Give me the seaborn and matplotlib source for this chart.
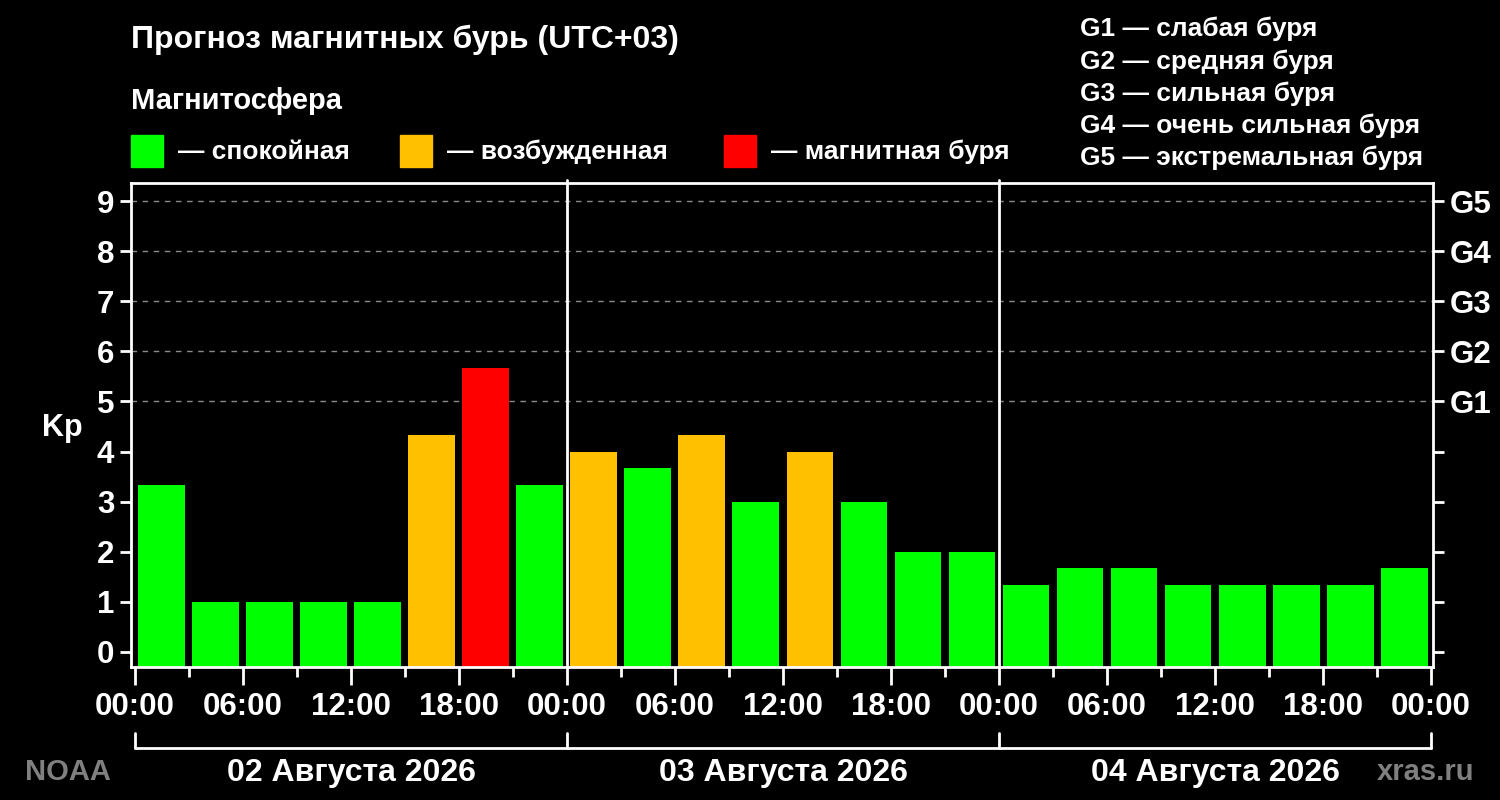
import matplotlib
matplotlib.use("Agg")
import matplotlib.pyplot as plt
import seaborn as sns
import pandas as pd
from matplotlib.patches import Rectangle
import matplotlib.transforms as mtransforms

# ---- data ----
hours = [1.5, 4.5, 7.5, 10.5, 13.5, 16.5, 19.5, 22.5,
         25.5, 28.5, 31.5, 34.5, 37.5, 40.5, 43.5, 46.5,
         49.5, 52.5, 55.5, 58.5, 61.5, 64.5, 67.5, 70.5]
kp = [3.33, 1.0, 1.0, 1.0, 1.0, 4.33, 5.67, 3.33,
      4.0, 3.67, 4.33, 3.0, 4.0, 3.0, 2.0, 2.0,
      1.33, 1.67, 1.67, 1.33, 1.33, 1.33, 1.33, 1.67]
levels = ["calm", "calm", "calm", "calm", "calm", "active", "storm", "calm",
          "active", "calm", "active", "calm", "active", "calm", "calm", "calm",
          "calm", "calm", "calm", "calm", "calm", "calm", "calm", "calm"]
level_colors = {"calm": "#00FF00", "active": "#FFC000", "storm": "#FF0000"}
level_labels = ["— спокойная", "— возбужденная", "— магнитная буря"]
xtick_labels = ["00:00", "06:00", "12:00", "18:00", "00:00", "06:00", "12:00",
                "18:00", "00:00", "06:00", "12:00", "18:00", "00:00"]
day_labels = ["02 Августа 2026", "03 Августа 2026", "04 Августа 2026"]
g_labels = ["G1", "G2", "G3", "G4", "G5"]
g_legend = ["G1 — слабая буря", "G2 — средняя буря", "G3 — сильная буря",
            "G4 — очень сильная буря", "G5 — экстремальная буря"]
title = "Прогноз магнитных бурь (UTC+03)"
subtitle = "Магнитосфера"

YMIN, YMAX = -0.3, 9.36

df = pd.DataFrame({"hour": hours, "kp": kp, "level": levels})

sns.set_theme(style="dark")
plt.rcParams["font.family"] = ["Liberation Sans", "DejaVu Sans"]
plt.rcParams["font.weight"] = "bold"

fig = plt.figure(figsize=(15, 8), dpi=100, facecolor="black")
ax = fig.add_axes([131/1500, 133/800, 1302/1500, 484/800])
ax.set_facecolor("black")

sns.barplot(data=df, x="hour", y="kp", hue="level", palette=level_colors,
            native_scale=True, dodge=False, width=0.87, legend=False,
            saturation=1, linewidth=0, ax=ax)
# bars reach down to the bottom of the plot area
for p in ax.patches:
    h = p.get_height()
    p.set_y(YMIN)
    p.set_height(h - YMIN)

ax.set_xlim(-0.22, 72.11)
ax.set_ylim(YMIN, YMAX)

# grid lines for G levels
for v in range(5, 10):
    ax.axhline(v, color="#8a8a8a", lw=1, ls=(0, (4, 4)), zorder=0.5)

# day separators
for d in (24, 48):
    ax.axvline(d, ymin=0, ymax=1.007, color="white", lw=2, clip_on=False, zorder=5)

for s in ax.spines.values():
    s.set_color("white")
    s.set_linewidth(2)
    s.set_visible(True)
    s.set_zorder(6)

ax.set_xticks(range(0, 73, 6))
ax.set_xticklabels(xtick_labels)
ax.set_xticks(range(3, 73, 6), minor=True)
ax.tick_params(axis="x", which="major", direction="out", length=13, width=2,
               color="white", labelcolor="white", labelsize=22.5, pad=5, bottom=True)
ax.tick_params(axis="x", which="minor", direction="out", length=7, width=2,
               color="white", bottom=True)
ax.set_yticks(range(0, 10))
ax.tick_params(axis="y", which="major", direction="out", length=8, width=2,
               color="white", labelcolor="white", labelsize=22.5, pad=4, left=True)
ax.set_xlabel("")
ax.set_ylabel("")
ax.grid(False)

ax2 = ax.twinx()
ax2.set_ylim(ax.get_ylim())
ax2.set_yticks(range(0, 10))
ax2.set_yticklabels([""] * 5 + g_labels)
ax2.tick_params(axis="y", direction="out", length=8, width=2, color="white",
                labelcolor="white", labelsize=22.5, pad=4, right=True)
ax2.grid(False)
for s in ax2.spines.values():
    s.set_visible(False)

ax.text(-0.053, 0.494, "Kp", transform=ax.transAxes, color="white",
        fontsize=22, fontweight="bold", ha="center", va="center")

# bottom bracket
tr = mtransforms.blended_transform_factory(ax.transData, ax.transAxes)
ax.plot([0, 72], [-0.167, -0.167], color="white", lw=2, transform=tr, clip_on=False)
for d in (0, 24, 48, 72):
    ax.plot([d, d], [-0.167, -0.137], color="white", lw=2, transform=tr, clip_on=False)
for i, lab in enumerate(day_labels):
    ax.text(12 + 24 * i, -0.219, lab, transform=tr, color="white", fontsize=23,
            fontweight="bold", ha="center", va="center")

fig.text(68/1500, 1 - 772/800, "NOAA", color="#808080", fontsize=21,
         fontweight="bold", ha="center", va="center")
fig.text(1426/1500, 1 - 772/800, "xras.ru", color="#808080", fontsize=21,
         fontweight="bold", ha="center", va="center")

# headers
fig.text(131/1500, 1 - 40/800, title, color="white", fontsize=23,
         fontweight="bold", ha="left", va="center")
fig.text(131/1500, 1 - 101/800, subtitle, color="white", fontsize=21,
         fontweight="bold", ha="left", va="center")

sq_x = [131, 400, 724]
for xpos, key, lab in zip(sq_x, ["calm", "active", "storm"], level_labels):
    fig.patches.append(Rectangle((xpos/1500, 1 - 167/800), 32/1500, 32/800,
                                 transform=fig.transFigure, color=level_colors[key]))
    fig.text((xpos + 47)/1500, 1 - 152/800, lab, color="white", fontsize=19,
             fontweight="bold", ha="left", va="center")

for i, lab in enumerate(g_legend):
    fig.text(1080/1500, 1 - (29 + 32.3 * i)/800, lab, color="white", fontsize=19,
             fontweight="bold", ha="left", va="center")

fig.savefig("out.png", dpi=100, facecolor="black")
